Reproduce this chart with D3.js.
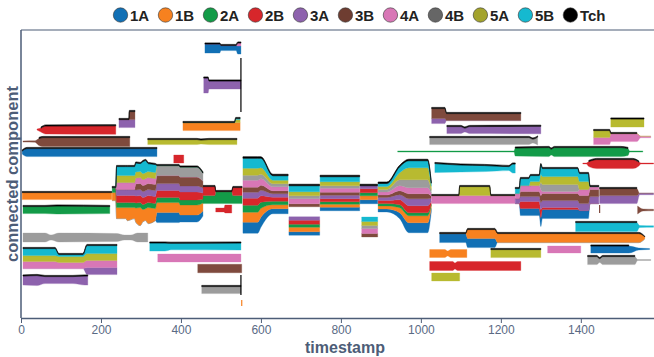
<!DOCTYPE html>
<html><head><meta charset="utf-8">
<script src="https://cdn.jsdelivr.net/npm/d3@7"></script>
<style>body{margin:0;background:#fff}svg{display:block}text{font-family:"Liberation Sans",Arial,sans-serif}</style>
</head><body><svg id="c" width="654" height="357"></svg>
<script>
const seriesKeys = ["1A","1B","2A","2B","3A","3B","4A","4B","5A","5B","Tch"];
const seriesColors = ["#1170b5","#f7811f","#139b48","#d7262b","#8d62ad","#7f4a3d","#d877b6","#9c9c9c","#b8ba30","#15b9d0","#000000"];
const legendColors = ["#1170b5","#f7811f","#139b48","#d7262b","#8d62ad","#6e3d31","#d877b6","#666666","#a3a32d","#15b9d0","#000000"];
const xTicks = [0,200,400,600,800,1000,1200,1400];

// component stacks: keys, rows [timestamp, level, thickness per key...]
const compA = {keys:"1A 4A Tch", rows:[[460,270,9,0,1.2],[497,270,9,0,1.2],[500,270.5,5,0,1.2],[538,270.5,5,0,1.2],[542,270,8,3,1.2],[550,270,8,3,1.2]]};
const compB = {keys:"3A Tch", rows:[[457,233,15,1.2],[468,233,15,1.2],[470,233.5,8,1.2],[550,233.5,8,1.2]]};
const compC = {keys:"2B Tch", rows:[[40,188.5,1,0],[50,188.5,4,1.2],[62,188.5,8,1.2],[237,188.5,8.5,1.2]]};
const compD = {keys:"3A 3B Tch", rows:[[245,195,8,0,1.2],[270,195,8,0,1.2],[271,199,8,8,1.2],[285,199,8,8,1.2]]};
const compE = {keys:"1B 5A 5B Tch", rows:[[405,192,8,0,0,1.2],[534,192,8,0,0,1.2],[537,194,8,3,1,1.2],[548,194,8,3,1,1.2]]};
const compF = {keys:"3B Tch", rows:[[5,176.5,1.2,0],[35,176.5,1.5,0],[45,176.5,7,1.2],[55,176.5,9,1.2],[272,176.5,9,1.2]]};
const compG = {keys:"5A Tch", rows:[[317,176.5,5,1.2],[440,176.5,5,1.2],[450,176.5,4,1.2],[470,176.5,5,1.2],[540,176.5,5,1.2]]};
const compH = {keys:"1A Tch", rows:[[3,166,3,1.2],[15,166,8,1.2],[340,166,8,1.2]]};
const compI = {keys:"2B", rows:[[382,159,8],[407,159,8]]};
const compJ = {keys:"1B Tch", rows:[[3,122.5,7,1.2],[227,122.5,7,1.2]]};
const compK = {keys:"2A Tch", rows:[[5,108.5,7,1.2],[60,108.5,7,1.2],[90,108.5,8,1.2],[222,108.5,7,1.2]]};
const compL = {keys:"4B", rows:[[5,80.5,9],[60,80.5,9],[75,80.5,5],[95,80.5,9],[240,80.5,8],[258,80.5,5],[275,80.5,5],[292,80.5,9],[317,80.5,9]]};
const compM = {keys:"3A 4A 5A 5B Tch", rows:[[5,60,0,7,6,7,1.2],[85,60,0,7,6,7,1.2],[95,57,0,6,6,2,1.2],[155,57,0,6,6,2,1.2],[165,58.5,7,7,7,8,1.2],[240,58.5,7,7,7,8,1.2]]};
const compN = {keys:"3A Tch", rows:[[5,38,9,1.2],[40,38,10,1.2],[60,38.5,7,1.2],[130,38.5,7,1.2],[160,38,9,1.2],[167,38,9,1.2]]};
const compP = {keys:"5B Tch", rows:[[322,71.5,8,1.2],[360,71.5,8,1.2],[375,72,6.5,1.2],[550,72,7,1.2]]};
const compQ = {keys:"4A", rows:[[342,60,8],[550,60,8]]};
const compR = {keys:"3B", rows:[[442,49.5,8.5],[552,49.5,8.5]]};
const compS = {keys:"4B Tch", rows:[[452,28.5,7,1.2],[550,28.5,7,1.2]]};
const compT = {keys:"2B", rows:[[487,108,4],[508,108,4],[510,109,8],[527,109,8]]};
const compU = {keys:"2A 2B Tch", rows:[[455,123.5,8,9,1.2],[485,123.5,8,9,1.2],[487,121,12,0,1.2],[527,121,12,0,1.2],[530,123,8,8,1.2],[553,123,8,8,1.2]]};
const ALL = "1A 1B 2A 2B 3A 3B 4A 4B 5A 5B Tch";
const cluster1 = {keys:ALL, rows:[
 [228,124.5,0,8,5,0,0,0,0,0,0,0,1.2],[237,124.5,0,8,5,0,0,0,0,0,0,0,1.2],
 [239,126,0,11,5,7,6,0,7,0,7,9,1.2],[262,126,0,11,5,7,6,0,7,0,7,9,1.2],
 [266,125,0,13,5,7,6,0,7,0,7,9,1.2],[284,126,0,11,5,7,6,0,7,0,7,9,1.2],
 [287,126,0,14,5,7,6,6,6,0,6,9,1.2],[298,124,0,18,5,7,6,6,6,0,6,8,1.2],
 [305,127,0,12,5,7,6,6,6,0,6,12,1.2],[312,128,0,12,5,7,6,6,6,0,6,12,1.2],
 [318,125,0,16,5,7,6,6,6,0,6,8,1.2],[336,126,0,12,5,7,6,6,6,0,6,8,1.2],
 [340,124.5,10,10,5,7,7,8,0,10,0,0,1.2],[395,124.5,10,10,5,7,7,8,0,10,0,0,1.2],
 [398,124,7,10,5,8,6,9,0,10,0,0,1.2],[440,124,7,10,5,8,6,9,0,10,0,0,1.2],
 [455,124,5,8,4,6,5,7,0,8,0,0,1.2]]};
const cluster2a = {keys:ALL, rows:[
 [555,123,11,10,7,7,6,5,7,5,7,10,1.5],[592,123,11,10,7,7,6,5,7,5,7,10,1.5],
 [600,126,10,9,6,6.5,5.5,5,6.5,4.5,6.5,9.5,1.5],[630,124,5,4,3.5,4,3.5,3,4,3,3.5,4.5,1.5],
 [668,124,5,4,3.5,4,3.5,3,4,3,3.5,4.5,1.5]]};
const cluster2bUp = {keys:"3B 4A 4B 5A 5B Tch", rows:[[670,122.5,3,5,3,4,6,1.5],[747,122.5,3,5,3,4,6,1.5]]};
const cluster2bLow = {keys:"1A 1B 2A 2B 3A", rows:[[670,92,3.5,4.5,3,4,3.5],[747,92,3.5,4.5,3,4,3.5]]};
const cluster2c = {keys:ALL, rows:[[748,125,3.5,3,2.5,3,3.5,3,4,2.5,4,5,1.5],[847,125,3.5,3,2.5,3,3.5,3,4,2.5,4,5,1.5]]};
const cluster2dUp = {keys:"1A 1B 2A 2B 3A Tch", rows:[[848,124,4,4,3,4,3,1.5],[892,124,4,4,3,4,3,1.5]]};
const cluster2dLow = {keys:"3B 4A 4B 5A 5B", rows:[[852,91,3.5,5,3,4,4.5],[892,91,3.5,5,3,4,4.5]]};
const cluster2e = {keys:ALL, rows:[
 [893,121,3,3,2.5,3,3,2.5,3,2.5,3,3,1.5],[915,121,3,3,2.5,3,3,2.5,3,2.5,3,3,1.5],
 [947,126,6,5,3,5,5,4,5,6,7,6,1.5],[970,122,10,7,3,7,7,5,6,8,12,7,1.5],
 [1017,122,10,7,3,7,7,5,6,8,12,7,1.5],[1026,121,4,3,1,3,3,2,3,3,4,3,1.5]]};
const compV = {keys:"4A 5A Tch", rows:[[1027,119,8,0,1.2],[1095,119,8,0,1.2],[1097,123.5,8,9,1.2],[1172,123.5,8,9,1.2],[1175,119,8,0,1.2],[1236,119,8,0,1.2]]};
const cluster3 = {keys:"1A 2B 3A 3B 4A 4B 5A 5B Tch", rows:[
 [1236,122.5,0,0,5,0,5,0,0,5,1.2],[1246,122.5,0,0,5,0,5,0,0,5,1.2],
 [1249,121.5,7,7,5,5,6,0,0,7,1.2],[1270,121.5,7,7,5,5,6,0,0,7,1.2],
 [1274,123,7,7,5,5,6,0,4,6,1.2],[1296,123,7,7,5,5,6,0,4,6,1.2],
 [1300,123,9,8,7,7,6,7,8,10,1.2],[1304,125,9,2,7,7,2,7,8,8,1.2],
 [1392,125,9,2,7,7,2,7,8,8,1.2],[1397,122.5,8,0,7,8,6,0,8,8,1.2],
 [1419,122.5,8,0,7,8,6,0,8,8,1.2],[1423,123.5,0,0,7,7,3,0,0,0,1.2],
 [1445,123.5,0,0,7,7,3,0,0,0,1.2]]};
const compW = {keys:"3A 3B Tch", rows:[[1447,122.5,8,7,1.2],[1540,122.5,8,7,1.2],[1547,124,1.5,0,0],[1582,124,1.5,0,0]]};
const compX1 = {keys:"5B Tch", rows:[[1035,150.5,9,1.2],[1100,150,7,1.2],[1160,150,6,1.2],[1220,150,4,1.2],[1230,150,9,1.2],[1236,150,9,1.2]]};
const compX2 = {keys:"3A 3B Tch", rows:[[1027,202.5,5,10,1.2],[1060,202.5,5,10,1.2],[1064,201.5,0,7,1.2],[1250,201.5,0,7,1.2]]};
const compX3 = {keys:"3A Tch", rows:[[1065,188.5,7,1.2],[1100,188.5,7,1.2],[1110,188.5,4,1.2],[1122,188.5,7,1.2],[1300,188.5,7.5,1.2]]};
const compX4 = {keys:"4B Tch", rows:[[1022,177.5,7,1.2],[1270,177.5,7,1.2],[1280,177.5,4,1.2],[1292,177.5,8,1.2]]};
const compX5 = {keys:"2A Tch", rows:[[942,166.5,1.2,0],[1233,166.5,1.2,0],[1236,166.5,8,1.2],[1320,166.5,9,1.2],[1326,166.5,6,1.2],[1334,166.5,9,1.2],[1500,166.5,9,1.2],[1518,166.5,7,1.2],[1522,166.5,1.2,0],[1555,166.5,1.2,0]]};
const compX7 = {keys:"2B Tch", rows:[[1405,154.5,0.8,0],[1414,154.5,1,0],[1420,154.5,5,1.2],[1440,154.5,9,1.2],[1530,154.5,9,1.2],[1545,154.5,4,1.2],[1550,154.5,1,0],[1582,154.5,1,0]]};
const compX8 = {keys:"5A Tch", rows:[[1475,195.5,8,1.2],[1558,195.5,8,1.2]]};
const compX9 = {keys:"4A 5A Tch", rows:[[1432,181,7,7,1.2],[1472,181,7,7,1.2],[1475,181,8,0,1.2],[1540,181,8,0,1.2],[1550,181,1.5,0,0],[1575,181,1.5,0,0]]};
const compX10 = {keys:"1A 1B Tch", rows:[[1047,80.5,9,0,1.2],[1112,80.5,9,0,1.2],[1117,80,9,9,1.2],[1185,80,9,9,1.2],[1192,80.5,0,9,1.2],[1545,80.5,0,9,1.2],[1560,80.5,0,2,0.6]]};
const compX11 = {keys:"1B", rows:[[1022,64.5,8],[1060,64.5,8],[1067,64.5,5],[1075,64.5,8],[1115,64.5,8]]};
const compX12 = {keys:"5A Tch", rows:[[1175,65,8,1.2],[1300,65,8,1.2]]};
const compX13 = {keys:"4A", rows:[[1317,68.5,7],[1400,68.5,7]]};
const compX14 = {keys:"1A Tch", rows:[[1425,69,7,1.2],[1520,69,7,1.2],[1545,69,2,0],[1572,69,1,0]]};
const compX15 = {keys:"4B Tch", rows:[[1417,58,8,1.2],[1440,58,8,1.2],[1447,58,4,1.2],[1455,58,8,1.2],[1535,58,8,1.2],[1542,58,1,0],[1575,58,1,0]]};
const compX16 = {keys:"2B", rows:[[1022,52,9],[1080,52,9],[1085,52,6],[1092,52,9],[1250,52,9]]};
const compX17 = {keys:"5A", rows:[[1027,41,8],[1097,41,8]]};
const compX18 = {keys:"5B Tch", rows:[[1387,91.5,9,1.2],[1540,91.5,9,1.2],[1547,91.5,2,0],[1582,91.5,1.5,0]]};
const compX19 = {keys:"3B", rows:[[1542,108,8],[1556,108,2],[1582,108,1.5]]};
const connectors = [[550,260,206,"Tch"],[550,43,23,"Tch"],[552,18,12,"1B"],[1447,113,105,"3B"]];

const components = [compA,compB,compC,compD,compE,compF,compG,compH,compI,compJ,compK,compL,compM,compN,compP,compQ,compR,compS,compT,compU,
 cluster1,cluster2a,cluster2bUp,cluster2bLow,cluster2c,cluster2dUp,cluster2dLow,cluster2e,compV,cluster3,compW,
 compX1,compX2,compX3,compX4,compX5,compX7,compX8,compX9,compX10,compX11,compX12,compX13,compX14,compX15,compX16,compX17,compX18,compX19];

const svg = d3.select("#c");
const axisColor = "#4d5d77";
const x = d3.scaleLinear().domain([0,1583]).range([21,654]);
const y = d3.scaleLinear().domain([0,288]).range([318,30]);
const color = d3.scaleOrdinal().domain(seriesKeys).range(seriesColors);

const plot = svg.append("g");
components.forEach(comp => {
  const keys = comp.keys.split(" ");
  const order = keys.slice().sort((a,b)=>seriesKeys.indexOf(a)-seriesKeys.indexOf(b));
  const rows = comp.rows.map(r => {
    const o = {t:r[0]}; let tot = 0;
    keys.forEach((k,i)=>{o[k]=r[2+i]; tot+=r[2+i];});
    let base = r[1]-tot/2;
    order.forEach(k=>{o[k+"_0"]=base; base+=o[k]; o[k+"_1"]=base;});
    return o;
  });
  order.forEach(k => {
    const area = d3.area().curve(d3.curveMonotoneX)
      .x(d=>x(d.t)).y0(d=>y(d[k+"_0"])).y1(d=>y(d[k+"_1"]));
    if (k==="Tch") area.defined(d=>d.Tch>0);
    plot.append("path").datum(rows).attr("d",area)
      .attr("fill",color(k))
      .attr("stroke",k==="Tch"?"#000":color(k))
      .attr("stroke-width",k==="Tch"?0.6:0.3)
      .attr("stroke-linejoin","round");
  });
});
plot.selectAll("line.conn").data(connectors).join("line").attr("class","conn")
  .attr("x1",d=>x(d[0])).attr("x2",d=>x(d[0])).attr("y1",d=>y(d[1])).attr("y2",d=>y(d[2]))
  .attr("stroke",d=>color(d[3])).attr("stroke-width",1.2);

// axes
const xAxis = svg.append("g").attr("transform",`translate(0,${y(0)})`)
  .call(d3.axisBottom(x).tickValues(xTicks).tickFormat(d3.format("d")).tickSize(5).tickSizeOuter(0));
xAxis.select(".domain").attr("stroke",axisColor).attr("stroke-width",1.5);
xAxis.selectAll(".tick line").attr("stroke",axisColor);
xAxis.selectAll(".tick text").attr("fill","#5a6a84").attr("font-size",12)
  .attr("font-family","'Liberation Sans',Arial,sans-serif").attr("dy","0.7em");
svg.append("line").attr("x1",x(0)).attr("x2",x(0)).attr("y1",y(0)).attr("y2",y(288))
  .attr("stroke",axisColor).attr("stroke-width",1.5);
svg.append("line").attr("x1",x(0)).attr("x2",654).attr("y1",y(288)).attr("y2",y(288))
  .attr("stroke",axisColor).attr("stroke-width",1.2);
svg.append("text").attr("x",345).attr("y",352.5).attr("text-anchor","middle")
  .attr("font-size",16).attr("font-weight","bold").attr("fill",axisColor).text("timestamp");
svg.append("text").attr("transform",`translate(18,${(y(0)+y(288))/2}) rotate(-90)`)
  .attr("text-anchor","middle").attr("font-size",16.5).attr("font-weight","bold")
  .attr("fill",axisColor).text("connected component");

// legend
const leg = svg.append("g");
let lx = 113;
seriesKeys.forEach((k,i) => {
  leg.append("circle").attr("cx",lx+7.5).attr("cy",15).attr("r",7.2)
    .attr("fill",legendColors[i]).attr("stroke","#333").attr("stroke-width",0.6);
  const t = leg.append("text").attr("x",lx+17).attr("y",20.5).attr("font-size",15)
    .attr("font-weight","bold").attr("fill","#222").text(k);
  lx += 17 + t.node().getComputedTextLength() + 8.8;
});
</script></body></html>
